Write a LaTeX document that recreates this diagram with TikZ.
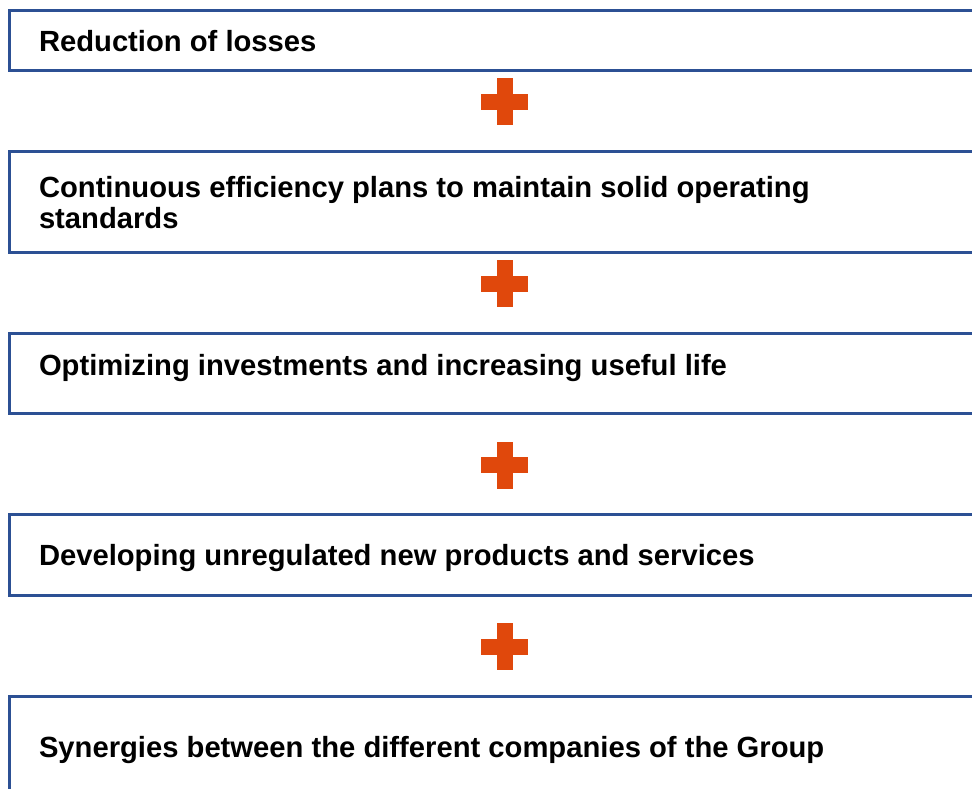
\documentclass[tikz,border=0pt]{standalone}
\usepackage{fontspec}
\setmainfont{Liberation Sans}
\definecolor{boxblue}{RGB}{44,80,148}
\definecolor{plusred}{RGB}{224,72,12}
\begin{document}
\begin{tikzpicture}[x=1pt,y=-1pt,
  boxframe/.style={draw=boxblue, line width=3pt, rectangle, anchor=north west,
    inner sep=0pt, outer sep=0pt, minimum width=1000pt},
  boxtext/.style={anchor=base west, inner sep=0pt, outer sep=0pt,
    font=\fontsize{29.2}{31}\selectfont\bfseries, align=left, text=black},
  plusv/.style={fill=plusred, draw=none, inner sep=0pt, outer sep=0pt,
    minimum width=16pt, minimum height=47pt},
  plush/.style={fill=plusred, draw=none, inner sep=0pt, outer sep=0pt,
    minimum width=47pt, minimum height=16pt}]
\useasboundingbox (0,0) rectangle (972,789);
\clip (0,0) rectangle (972,789);
% boxes
\node[boxframe, minimum height=60pt] (b1) at (9,10.5) {};
\node[boxframe, minimum height=100pt] (b2) at (9,152) {};
\node[boxframe, minimum height=80pt] (b3) at (9,333) {};
\node[boxframe, minimum height=81pt] (b4) at (9,514) {};
\node[boxframe, minimum height=150pt] (b5) at (9,696) {};
% texts
\node[boxtext] (t1) at (39,52) {Reduction of losses};
\node[boxtext] (t2) at (39,228) {Continuous efficiency plans to maintain solid operating\\standards};
\node[boxtext] (t3) at (39,375) {Optimizing investments and increasing useful life};
\node[boxtext] (t4) at (39,565) {Developing unregulated new products and services};
\node[boxtext] (t5) at (39,757) {Synergies between the different companies of the Group};
% plus signs
\foreach \n/\y in {1/102,2/283.5,3/465,4/646.5}{
  \node[plusv] (p\n v) at (504.5,\y) {};
  \node[plush] (p\n h) at (504.5,\y) {};
}
\end{tikzpicture}
\end{document}
